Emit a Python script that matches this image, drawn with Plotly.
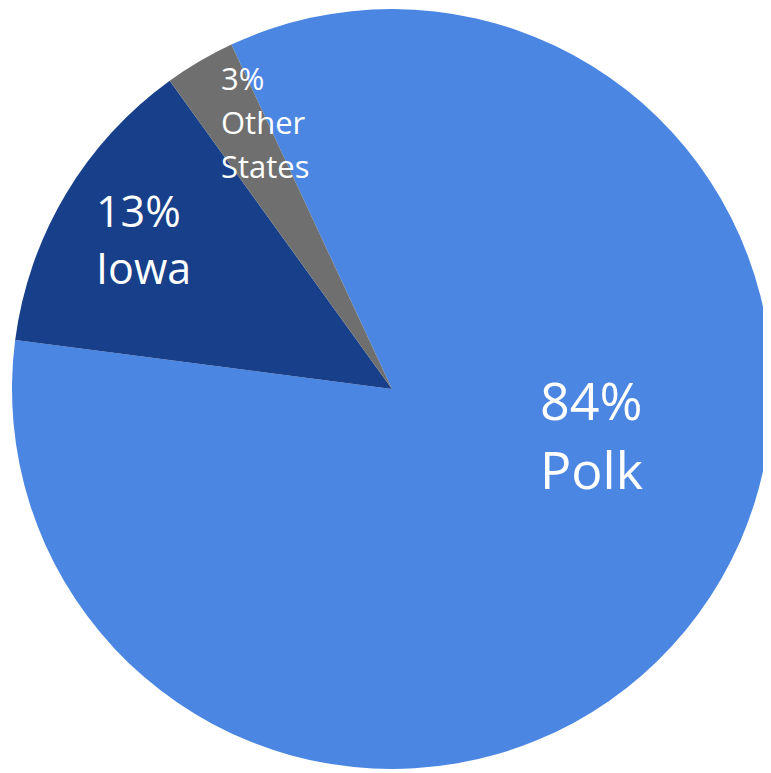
import plotly.graph_objects as go

labels = ["Polk", "Iowa", "Other<br>States"]
values = [84, 13, 3]
colors = ["#4a86e2", "#173f8a", "#6f6f6f"]

# label placement (pixel coords from top-left of the 771x773 canvas)
label_left = [530, 86, 211]
label_first_line = [391, 203, 70]
label_spacing = [70, 56, 44]
label_sizes = [52, 43, 31]

W, H = 771, 773

fig = go.Figure(go.Pie(
    labels=labels,
    values=values,
    sort=False,
    direction="clockwise",
    rotation=-25,
    marker=dict(colors=colors, line=dict(width=0)),
    textinfo="none",
    hoverinfo="label+percent",
    showlegend=False,
    domain=dict(x=[4/W, 764/W], y=[12/H, 772/H]),
))

for lab, v, lx, ly, sp, s in zip(labels, values, label_left, label_first_line,
                                 label_spacing, label_sizes):
    lines = [f"{v}%"] + lab.split("<br>")
    for i, line in enumerate(lines):
        fig.add_annotation(
            x=lx / W, y=1 - (ly + i * sp) / H, xref="paper", yref="paper",
            xanchor="left", yanchor="middle", align="left",
            text=line, showarrow=False,
            font=dict(family="Open Sans, sans-serif", size=s, color="white"),
        )

fig.update_layout(
    width=W, height=H,
    margin=dict(l=0, r=0, t=0, b=0),
    paper_bgcolor="white", plot_bgcolor="white",
)

fig.write_html("out.html")
